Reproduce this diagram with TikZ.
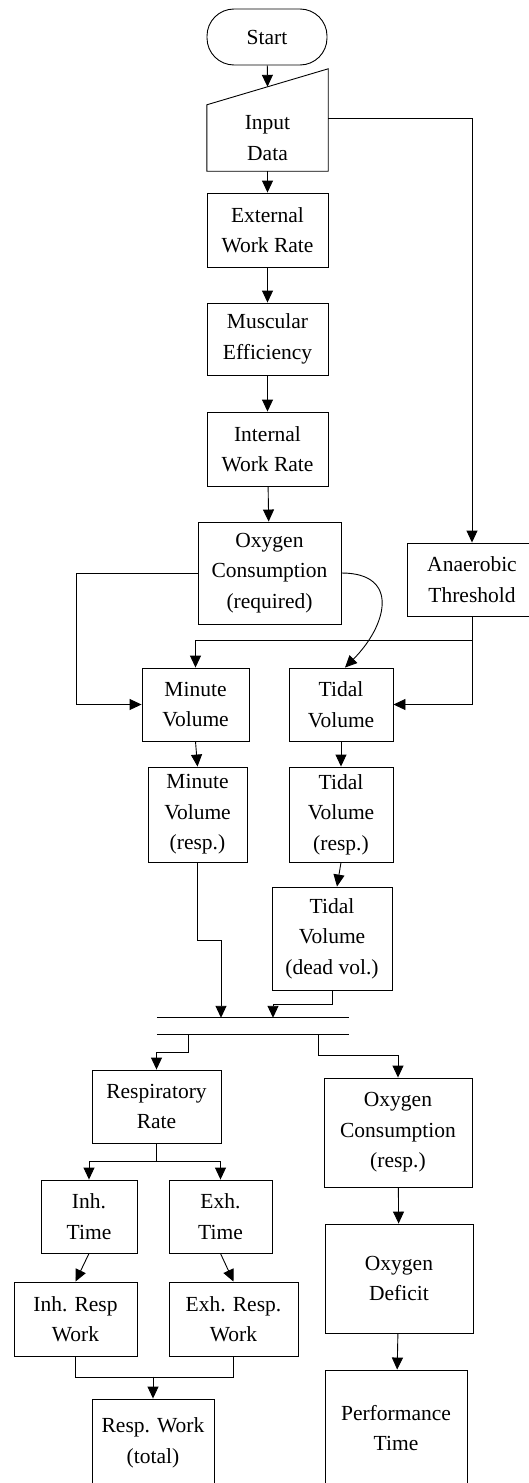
\documentclass[tikz,border=0pt]{standalone}
\usepackage{fontspec}
\setmainfont{Liberation Serif}
\usetikzlibrary{arrows.meta,calc}

\begin{document}
\begin{tikzpicture}[x=1pt, y=-1pt,
		box/.style={draw, align=center, inner sep=0pt, line width=0.9pt},
		arr/.style={-{Triangle[length=12pt,width=11pt]}, line width=0.9pt},
		conn/.style={line width=0.9pt},
		every node/.style={font=\fontsize{21.5}{30.5}\selectfont}]
		\useasboundingbox (0,0) rectangle (529,1483);

		% main column
		\node (start)[box, rounded corners=27pt, minimum width=120pt, minimum height=56pt] at (267,37) {Start};
		\node (input)[align=center, inner sep=0pt, minimum width=121pt, minimum height=66pt] at (267.5,138) {Input\\Data};
		\draw [conn](input.north west) -- ([yshift=36pt]input.north east) -- (input.south east) -- (input.south west) -- cycle;
		\coordinate (slant) at ($(input.north west)!0.5!([yshift=36pt]input.north east)$);

		\node (extwr)[box, minimum width=121pt, minimum height=74pt] at (267.5,230) {External\\Work Rate};
		\node (museff)[box, minimum width=121pt, minimum height=72pt] at (267.5,339) {Muscular\\Efficiency};
		\node (intwr)[box, minimum width=121pt, minimum height=74pt] at (267.5,449) {Internal\\Work Rate};
		\node (oxreq)[box, minimum width=143pt, minimum height=102pt] at (269.5,573) {Oxygen\\Consumption\\(required)};
		\node (anaer)[box, minimum width=130pt, minimum height=73pt] at (472,579.5) {Anaerobic\\Threshold};

		% volumes
		\node (minvol)[box, minimum width=107pt, minimum height=73pt] at (195.5,704.5) {Minute\\Volume};
		\node (tidal)[box, minimum width=104pt, minimum height=73pt] at (341,704.5) {Tidal\\Volume};
		\node (minvolr)[box, minimum width=99pt, minimum height=95pt] at (197.5,814.5) {Minute\\Volume\\(resp.)};
		\node (tidalr)[box, minimum width=104pt, minimum height=95pt] at (341,814.5) {Tidal\\Volume\\(resp.)};
		\node (tidald)[box, minimum width=120pt, minimum height=103pt] at (332,938.5) {Tidal\\Volume\\(dead vol.)};

		\node (bar)[inner sep=0pt, minimum width=192pt, minimum height=16pt] at (253,1026) {};
		\draw [conn](bar.north west) -- (bar.north east);
		\draw [conn](bar.south west) -- (bar.south east);

		% lower part
		\node (resprate)[box, minimum width=129pt, minimum height=73pt] at (156.5,1106.5) {Respiratory\\Rate};
		\node (oxresp)[box, minimum width=148pt, minimum height=109pt] at (398,1132.5) {Oxygen\\Consumption\\(resp.)};
		\node (inht)[box, minimum width=96pt, minimum height=73pt] at (89,1216.5) {Inh.\\Time};
		\node (exht)[box, minimum width=103pt, minimum height=73pt] at (220.5,1216.5) {Exh.\\Time};
		\node (inhw)[box, minimum width=123pt, minimum height=74pt] at (75.5,1319) {Inh. Resp\\Work};
		\node (exhw)[box, minimum width=129pt, minimum height=74pt] at (233.5,1319) {Exh. Resp.\\Work};
		\node (total)[box, minimum width=122pt, minimum height=88pt] at (153,1443) {Resp. Work\\(total)};
		\node (oxdef)[box, minimum width=148pt, minimum height=109pt] at (399,1278.5) {Oxygen\\Deficit};
		\node (perf)[box, minimum width=142pt, minimum height=116pt] at (396,1428) {Performance\\Time};

		\draw [arr](start) -- (slant);
		\draw [arr](input) -- (extwr);
		\draw [arr](extwr) -- (museff);
		\draw [arr](museff) -- (intwr);
		\draw [arr](intwr) -- (oxreq);
		\draw [arr]([yshift=20pt]input.east) -| (anaer.north);

		\draw [arr](oxreq.west) -| ([xshift=-65pt]minvol.west) -- (minvol.west);
		\draw [arr](oxreq.east) to[out=0, in=45, looseness=1.6] ([xshift=4pt]tidal.north);
		\draw [arr](anaer.south) |- (tidal.east);
		\draw [arr](anaer.south) |- ([yshift=27pt]minvol.north) -- (minvol.north);

		\draw [arr](minvol.south) -- (minvolr.north);
		\draw [arr](tidal.south) -- (tidalr.north);
		\draw [arr](tidalr.south) -- ([xshift=5pt]tidald.north);

		\draw [arr](minvolr.south) -- ++(0,78) -| ([xshift=-32pt]bar.north);
		\draw [arr](tidald.south) -- ++(0,14) -| ([xshift=20pt]bar.north);

		\draw [arr]([xshift=-65pt]bar.south) -- ++(0,18) -| (resprate.north);
		\draw [arr]([xshift=65pt]bar.south) -- ++(0,21) -| (oxresp.north);

		\draw [arr](resprate.south) -- ++(0,18) -| (inht.north);
		\draw [arr](resprate.south) -- ++(0,18) -| (exht.north);
		\draw [arr](inht.south) -- (inhw.north);
		\draw [arr](exht.south) -- (exhw.north);

		\draw [conn](inhw.south) -- ++(0,21) -| (exhw.south);
		\draw [arr]([yshift=22pt]total.north) -- (total.north);

		\draw [arr](oxresp) -- (oxdef);
		\draw [arr](oxdef) -- (perf);
	\end{tikzpicture}
\end{document}
